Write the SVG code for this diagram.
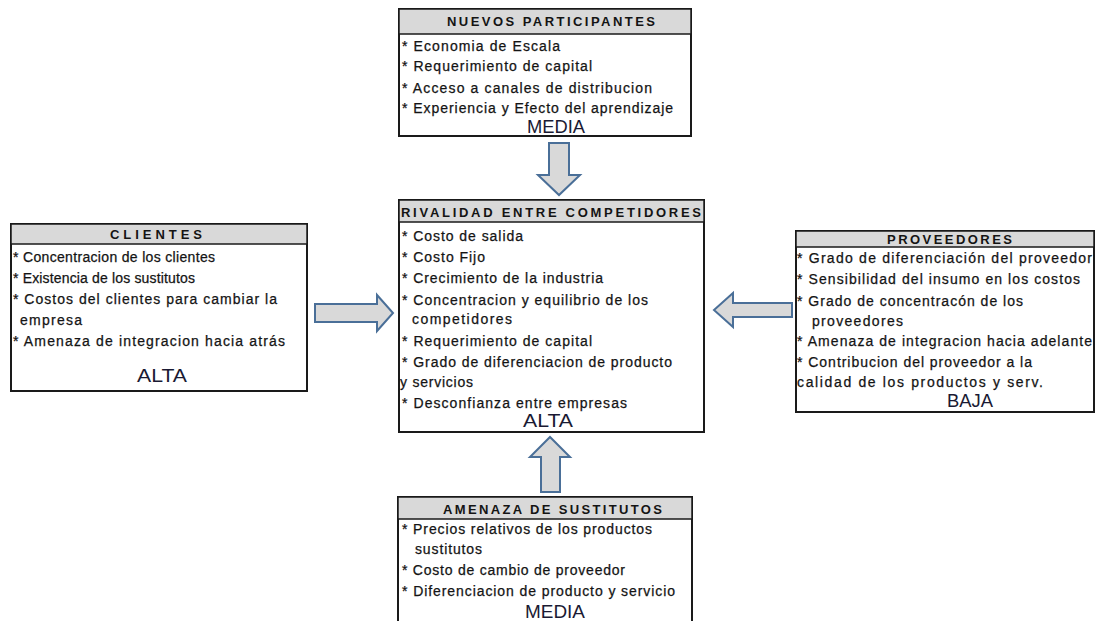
<svg xmlns="http://www.w3.org/2000/svg" width="1097" height="621" viewBox="0 0 1097 621">
<style>
.box{fill:#fff;stroke:#1a1a1a;stroke-width:2}
.hdr{fill:#d9d9d9;stroke:#1a1a1a;stroke-width:1.5}
.ht{font-family:"Liberation Sans",Arial,sans-serif;font-size:13px;font-weight:bold;fill:#141414}
.t{font-family:"Liberation Sans",Arial,sans-serif;font-size:14px;fill:#141414;stroke:#141414;stroke-width:0.25}
.lv{font-family:"Liberation Sans",Arial,sans-serif;font-size:19px;fill:#1a1a33}
.arr{fill:#d9d9d9;stroke:#4a6f98;stroke-width:2;stroke-linejoin:miter}
</style>
<rect width="1097" height="621" fill="#fff"/>
<g id="connectors">
<polygon class="arr" points="549,143 569,143 569,175 580,175 559,195 538,175 549,175"/>
<polygon class="arr" points="541,492 560,492 560,457 570,457 550,437 530,457 541,457"/>
<polygon class="arr" points="315,304 377,304 377,295 393,313 377,331 377,322 315,322"/>
<polygon class="arr" points="792,303 733,303 733,293 714,310 733,327 733,317 792,317"/>
</g>
<g id="nuevos-participantes">
<rect class="box" x="399" y="9" width="292" height="127"/>
<rect class="hdr" x="399" y="9" width="292" height="25"/>
<text class="ht" x="447" y="26" textLength="208" lengthAdjust="spacing">NUEVOS PARTICIPANTES</text>
<text class="t" x="402" y="51" textLength="158" lengthAdjust="spacing">* Economia de Escala</text>
<text class="t" x="402" y="71" textLength="190" lengthAdjust="spacing">* Requerimiento de capital</text>
<text class="t" x="402" y="93" textLength="250" lengthAdjust="spacing">* Acceso a canales de distribucion</text>
<text class="t" x="402" y="113" textLength="271" lengthAdjust="spacing">* Experiencia y Efecto del aprendizaje</text>
<text class="lv" x="527" y="133" textLength="58" lengthAdjust="spacingAndGlyphs">MEDIA</text>
</g>
<g id="rivalidad">
<rect class="box" x="399" y="200" width="305" height="232"/>
<rect class="hdr" x="399" y="200" width="305" height="22"/>
<text class="ht" x="401" y="217" textLength="300" lengthAdjust="spacing">RIVALIDAD ENTRE COMPETIDORES</text>
<text class="t" x="402" y="241" textLength="121" lengthAdjust="spacing">* Costo de salida</text>
<text class="t" x="402" y="262" textLength="83" lengthAdjust="spacing">* Costo Fijo</text>
<text class="t" x="402" y="283" textLength="201" lengthAdjust="spacing">* Crecimiento de la industria</text>
<text class="t" x="402" y="305" textLength="246" lengthAdjust="spacing">* Concentracion y equilibrio de los</text>
<text class="t" x="412" y="324" textLength="100" lengthAdjust="spacing">competidores</text>
<text class="t" x="402" y="346" textLength="190" lengthAdjust="spacing">* Requerimiento de capital</text>
<text class="t" x="402" y="367" textLength="270" lengthAdjust="spacing">* Grado de diferenciacion de producto</text>
<text class="t" x="400" y="387" textLength="73" lengthAdjust="spacing">y servicios</text>
<text class="t" x="402" y="408" textLength="225" lengthAdjust="spacing">* Desconfianza entre empresas</text>
<text class="lv" x="523" y="427" textLength="50" lengthAdjust="spacingAndGlyphs">ALTA</text>
</g>
<g id="clientes">
<rect class="box" x="11" y="224" width="296" height="167"/>
<rect class="hdr" x="11" y="224" width="296" height="20"/>
<text class="ht" x="110" y="239" textLength="92" lengthAdjust="spacing">CLIENTES</text>
<text class="t" x="13" y="262" textLength="202" lengthAdjust="spacing">* Concentracion de los clientes</text>
<text class="t" x="13" y="283" textLength="182" lengthAdjust="spacing">* Existencia de los sustitutos</text>
<text class="t" x="13" y="304" textLength="264" lengthAdjust="spacing">* Costos del clientes para cambiar la</text>
<text class="t" x="20" y="325" textLength="62" lengthAdjust="spacing">empresa</text>
<text class="t" x="13" y="346" textLength="272" lengthAdjust="spacing">* Amenaza de integracion hacia atrás</text>
<text class="lv" x="137" y="382" textLength="50" lengthAdjust="spacingAndGlyphs">ALTA</text>
</g>
<g id="proveedores">
<rect class="box" x="796" y="231" width="298" height="181"/>
<rect class="hdr" x="796" y="231" width="298" height="16"/>
<text class="ht" x="887" y="244" textLength="125" lengthAdjust="spacing">PROVEEDORES</text>
<text class="t" x="797" y="263" textLength="295" lengthAdjust="spacing">* Grado de diferenciación del proveedor</text>
<text class="t" x="797" y="284" textLength="283" lengthAdjust="spacing">* Sensibilidad del insumo en los costos</text>
<text class="t" x="797" y="306" textLength="226" lengthAdjust="spacing">* Grado de concentracón de los</text>
<text class="t" x="812" y="326" textLength="91" lengthAdjust="spacing">proveedores</text>
<text class="t" x="797" y="346" textLength="295" lengthAdjust="spacing">* Amenaza de integracion hacia adelante</text>
<text class="t" x="797" y="367" textLength="235" lengthAdjust="spacing">* Contribucion del proveedor a la</text>
<text class="t" x="797" y="387" textLength="246" lengthAdjust="spacing">calidad de los productos y serv.</text>
<text class="lv" x="947" y="407" textLength="46" lengthAdjust="spacingAndGlyphs">BAJA</text>
</g>
<g id="amenaza-sustitutos">
<rect class="box" x="398" y="497" width="294" height="140"/>
<rect class="hdr" x="398" y="497" width="294" height="22"/>
<text class="ht" x="443" y="514" textLength="219" lengthAdjust="spacing">AMENAZA DE SUSTITUTOS</text>
<text class="t" x="402" y="534" textLength="250" lengthAdjust="spacing">* Precios relativos de los productos</text>
<text class="t" x="415" y="554" textLength="67" lengthAdjust="spacing">sustitutos</text>
<text class="t" x="402" y="575" textLength="223" lengthAdjust="spacing">* Costo de cambio de proveedor</text>
<text class="t" x="402" y="596" textLength="273" lengthAdjust="spacing">* Diferenciacion de producto y servicio</text>
<text class="lv" x="525" y="618" textLength="60" lengthAdjust="spacingAndGlyphs">MEDIA</text>
</g>
</svg>
